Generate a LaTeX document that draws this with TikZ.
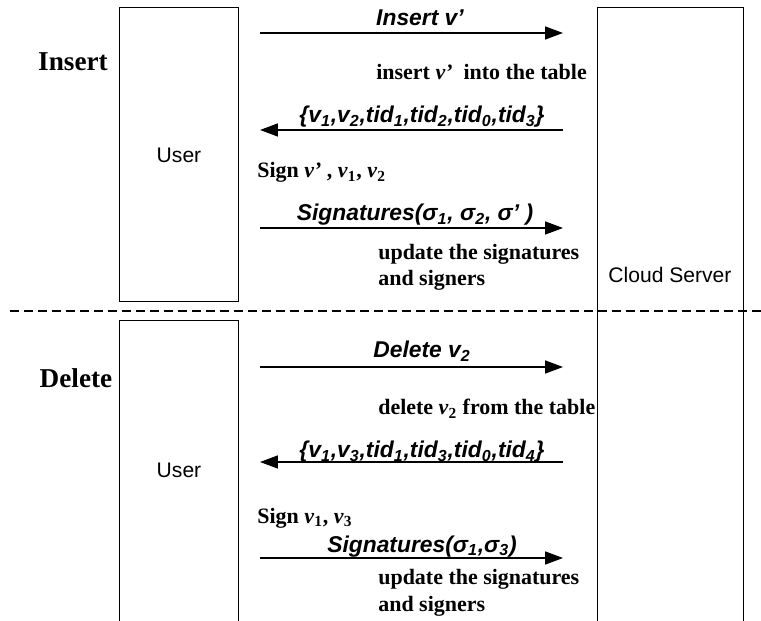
\documentclass[tikz,border=0pt]{standalone}
\usepackage{fontspec}
\setmainfont{Liberation Serif}
\setsansfont{Liberation Sans}
\usetikzlibrary{arrows.meta,positioning}

\tikzset{
    party/.style={draw, line width=0.6pt, inner sep=0pt},
    phase/.style={font=\fontsize{15.5}{18}\selectfont\bfseries},
    who/.style={font=\fontsize{12}{14}\sffamily},
    msg/.style={font=\fontsize{13}{15}\sffamily\bfseries\itshape, anchor=base, inner sep=0pt},
    act/.style={font=\fontsize{12.5}{15}\selectfont\bfseries, anchor=base west, inner sep=0pt, align=left},
    send/.style={line width=0.9pt, -{Triangle[length=0.36cm, width=0.26cm]}},
    split/.style={line width=0.6pt, dash pattern=on 0.18cm off 0.1cm}
}

\begin{document}
\begin{tikzpicture}[x=0.02cm, y=-0.02cm]
    \useasboundingbox (0,0) rectangle (761,621);
    \clip (0,0) rectangle (761,621);

    % lifelines
    \node[party, minimum width=2.38cm, minimum height=5.88cm, anchor=north west] (user1) at (119,7) {};
    \node[party, minimum width=2.38cm, minimum height=6.2cm, anchor=north west] (user2) at (119,320) {};
    \node[party, minimum width=2.92cm, minimum height=12.8cm, anchor=north west] (cloud) at (597,7) {};
    \node[who] (userlab1) at (179,155) {User};
    \node[who] (userlab2) at (179,470) {User};
    \node[who] (cloudlab) at (670,275) {Cloud Server};

    \node[phase] (insert) at (73,62) {Insert};
    \node[phase] (delete) at (76,378) {Delete};

    % separator
    \coordinate (sepL) at (10,311);
    \coordinate (sepR) at (761,311);
    \draw[split] (sepL) -- (sepR);

    % message ends
    \foreach \n/\y in {ins/33, ret/130, sig/228, del/367, retd/462, sigd/558} {
        \coordinate (\n L) at (260,\y);
        \coordinate (\n R) at (563,\y);
    }

    % insert phase
    \draw[send] (insL) -- (insR);
    \node[msg] (m1) at (420,26) {Insert v’};
    \node[act] (a1) at (376,80) {insert \textit{v’}\ \ into the table};
    \draw[send] (retR) -- (retL);
    \node[msg] (m2) at (422,123) {\{v\textsubscript{1},v\textsubscript{2},tid\textsubscript{1},tid\textsubscript{2},tid\textsubscript{0},tid\textsubscript{3}\}};
    \node[act] (a2) at (257,178) {Sign \textit{v’} , \textit{v}\textsubscript{1}, \textit{v}\textsubscript{2}};
    \draw[send] (sigL) -- (sigR);
    \node[msg] (m3) at (415,221) {Signatures(σ\textsubscript{1}, σ\textsubscript{2}, σ’ )};
    \node[act] (a3) at (378,286) {update the signatures\\and signers};

    % delete phase
    \draw[send] (delL) -- (delR);
    \node[msg] (m4) at (422,358) {Delete v\textsubscript{2}};
    \node[act] (a4) at (378,415) {delete \textit{v}\textsubscript{2} from the table};
    \draw[send] (retdR) -- (retdL);
    \node[msg] (m5) at (422,458) {\{v\textsubscript{1},v\textsubscript{3},tid\textsubscript{1},tid\textsubscript{3},tid\textsubscript{0},tid\textsubscript{4}\}};
    \node[act] (a5) at (257,523) {Sign \textit{v}\textsubscript{1}, \textit{v}\textsubscript{3}};
    \draw[send] (sigdL) -- (sigdR);
    \node[msg] (m6) at (422,552) {Signatures(σ\textsubscript{1},σ\textsubscript{3})};
    \node[act] (a6) at (378,611) {update the signatures\\and signers};
\end{tikzpicture}
\end{document}
